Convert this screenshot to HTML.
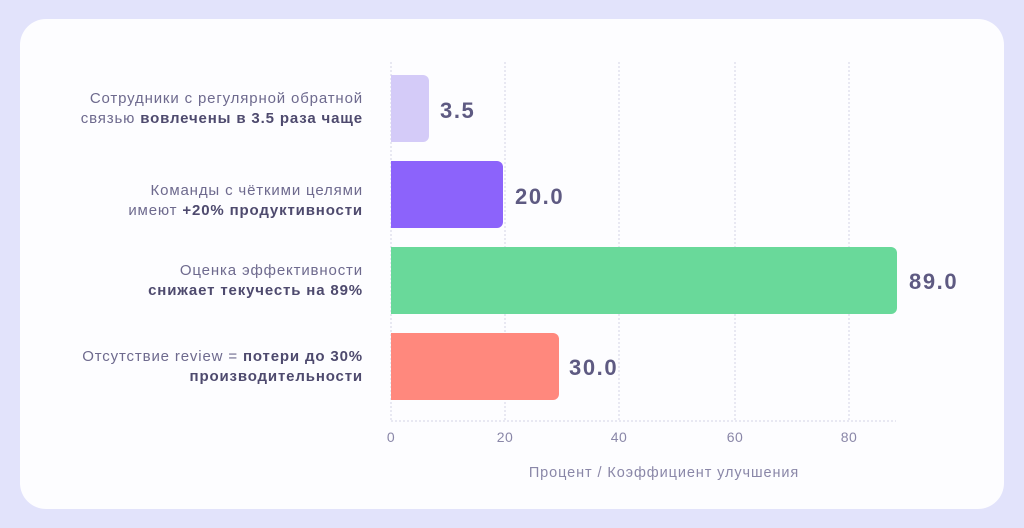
<!DOCTYPE html>
<html><head><meta charset="utf-8"><style>
body{margin:0;width:1024px;height:528px;background:#e2e3fb;overflow:hidden}
svg{display:block}
text{font-family:"Liberation Sans","DejaVu Sans",sans-serif}
</style></head><body>
<svg width="1024" height="528" viewBox="0 0 1024 528">
<rect x="0" y="0" width="1024" height="528" fill="#e2e3fb"/>
<rect x="20" y="19" width="984" height="490" rx="26" fill="#fdfdff"/>
<g stroke="#d4d4e4" stroke-width="1" stroke-dasharray="2,2">
<line x1="391" y1="62" x2="391" y2="421"/>
<line x1="505" y1="62" x2="505" y2="421"/>
<line x1="619" y1="62" x2="619" y2="421"/>
<line x1="735" y1="62" x2="735" y2="421"/>
<line x1="849" y1="62" x2="849" y2="421"/>
<line x1="391" y1="421" x2="896" y2="421"/>
</g>
<path d="M391 75H423a6 6 0 0 1 6 6V136a6 6 0 0 1-6 6H391Z" fill="#d4cbf8"/>
<path d="M391 161H497a6 6 0 0 1 6 6V222a6 6 0 0 1-6 6H391Z" fill="#8c63fb"/>
<path d="M391 247H891a6 6 0 0 1 6 6V308a6 6 0 0 1-6 6H391Z" fill="#69d99a"/>
<path d="M391 333H553a6 6 0 0 1 6 6V394a6 6 0 0 1-6 6H391Z" fill="#ff887d"/>
<g font-weight="bold" font-size="22" fill="#5e5a82" letter-spacing="1.6">
<text x="440" y="118">3.5</text>
<text x="515" y="204">20.0</text>
<text x="909" y="289">89.0</text>
<text x="569" y="375">30.0</text>
</g>
<g font-size="15" fill="#6e6a8e" text-anchor="end" letter-spacing="0.85">
<text x="363" y="103">Сотрудники с регулярной обратной</text>
<text x="363" y="123">связью <tspan font-weight="bold" fill="#4e4a6e">вовлечены в 3.5 раза чаще</tspan></text>
<text x="363" y="195">Команды с чёткими целями</text>
<text x="363" y="215">имеют <tspan font-weight="bold" fill="#4e4a6e">+20% продуктивности</tspan></text>
<text x="363" y="275">Оценка эффективности</text>
<text x="363" y="295" font-weight="bold" fill="#4e4a6e">снижает текучесть на 89%</text>
<text x="363" y="361">Отсутствие review = <tspan font-weight="bold" fill="#4e4a6e">потери до 30%</tspan></text>
<text x="363" y="381" font-weight="bold" fill="#4e4a6e">производительности</text>
</g>
<g font-size="14" fill="#8a87a8" text-anchor="middle" letter-spacing="0.5">
<text x="391" y="442">0</text>
<text x="505" y="442">20</text>
<text x="619" y="442">40</text>
<text x="735" y="442">60</text>
<text x="849" y="442">80</text>
<text x="664" y="477" font-size="14.5" letter-spacing="0.9">Процент / Коэффициент улучшения</text>
</g>
</svg>
</body></html>
